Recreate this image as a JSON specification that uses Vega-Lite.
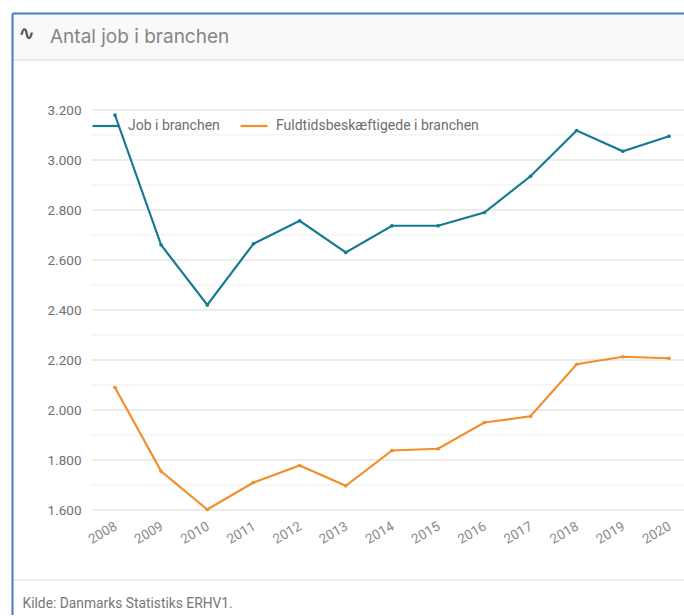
{
"$schema":"https://vega.github.io/schema/vega-lite/v6.json",
"padding":{"left":11,"top":13,"right":0,"bottom":0},
"background":"white",
"width":672,"height":602,
"config":{"view":{"stroke":null},"font":"Roboto"},
"title":{"text":"Antal job i branchen","anchor":"start","frame":"group","dx":38,"offset":-34,"font":"Inter","fontSize":19,"fontWeight":"normal","color":"#858585"},
"datasets":{
"series":[
{"year":2008,"series":"Job i branchen","value":3180},
{"year":2009,"series":"Job i branchen","value":2660},
{"year":2010,"series":"Job i branchen","value":2420},
{"year":2011,"series":"Job i branchen","value":2665},
{"year":2012,"series":"Job i branchen","value":2757},
{"year":2013,"series":"Job i branchen","value":2630},
{"year":2014,"series":"Job i branchen","value":2737},
{"year":2015,"series":"Job i branchen","value":2737},
{"year":2016,"series":"Job i branchen","value":2790},
{"year":2017,"series":"Job i branchen","value":2935},
{"year":2018,"series":"Job i branchen","value":3118},
{"year":2019,"series":"Job i branchen","value":3035},
{"year":2020,"series":"Job i branchen","value":3095},
{"year":2008,"series":"Fuldtidsbeskæftigede i branchen","value":2090},
{"year":2009,"series":"Fuldtidsbeskæftigede i branchen","value":1755},
{"year":2010,"series":"Fuldtidsbeskæftigede i branchen","value":1602},
{"year":2011,"series":"Fuldtidsbeskæftigede i branchen","value":1710},
{"year":2012,"series":"Fuldtidsbeskæftigede i branchen","value":1778},
{"year":2013,"series":"Fuldtidsbeskæftigede i branchen","value":1697},
{"year":2014,"series":"Fuldtidsbeskæftigede i branchen","value":1838},
{"year":2015,"series":"Fuldtidsbeskæftigede i branchen","value":1845},
{"year":2016,"series":"Fuldtidsbeskæftigede i branchen","value":1950},
{"year":2017,"series":"Fuldtidsbeskæftigede i branchen","value":1975},
{"year":2018,"series":"Fuldtidsbeskæftigede i branchen","value":2183},
{"year":2019,"series":"Fuldtidsbeskæftigede i branchen","value":2213},
{"year":2020,"series":"Fuldtidsbeskæftigede i branchen","value":2207}
],
"major":[{"g":1600},{"g":1800},{"g":2000},{"g":2200},{"g":2400},{"g":2600},{"g":2800},{"g":3000},{"g":3200}],
"minor":[{"g":1700},{"g":1900},{"g":2100},{"g":2300},{"g":2500},{"g":2700},{"g":2900},{"g":3100}],
"frame":[{"k":0}]
},
"data":{"name":"frame"},
"layer":[
{"mark":{"type":"rect","fill":"#f9f9f9"},
"encoding":{"y":{"datum":3588,"axis":null},"y2":{"datum":3402}}},
{"mark":{"type":"rule","stroke":"#ececec","strokeWidth":2},
"encoding":{"y":{"datum":3400,"axis":{"orient":"left","zindex":1,"title":null,"labels":false,"ticks":false,"grid":false,"domainColor":"#4a78c8","domainWidth":2}},
"x":{"datum":2005.77,"axis":{"zindex":1,"orient":"top","title":"∿","titleFont":"DejaVu Sans","titleFontWeight":"bold","titleFontSize":20,"titleColor":"#555555","titleX":14,"titleY":30,"labels":false,"ticks":false,"grid":false,"domainColor":"#4a78c8","domainWidth":2}},
"x2":{"datum":2020.325}}},
{"mark":{"type":"rule","stroke":"#ececec","strokeWidth":2},
"encoding":{"y":{"datum":1320,"axis":null},"x":{"datum":2005.77,"axis":null},"x2":{"datum":2020.325}}},
{"data":{"name":"minor"},"mark":{"type":"rule","stroke":"#f4f4f4","strokeWidth":1.3},
"encoding":{"y":{"field":"g","type":"quantitative","axis":null},"x":{"datum":2007.5,"axis":null},"x2":{"datum":2020.325}}},
{"data":{"name":"major"},"mark":{"type":"rule","stroke":"#e6e6e6","strokeWidth":1.3},
"encoding":{"y":{"field":"g","type":"quantitative","axis":null},"x":{"datum":2007.5,"axis":null},"x2":{"datum":2020.325}}},
{"data":{"name":"series"},
"mark":{"type":"line","strokeWidth":2.2,"point":{"size":14,"filled":true}},
"encoding":{
"x":{"field":"year","type":"quantitative","scale":{"domain":[2005.77,2020.325],"nice":false,"zero":false},
"axis":{"orient":"bottom","title":"Kilde: Danmarks Statistiks ERHV1.","titleFont":"Roboto","titleFontSize":13.8,"titleFontWeight":"normal","titleColor":"#777777","titleAnchor":"start","titleAlign":"left","titleBaseline":"alphabetic","titleX":10,"titleY":98,"offset":-106,"values":[2008,2009,2010,2011,2012,2013,2014,2015,2016,2017,2018,2019,2020],"format":"d","labelAngle":-30,"labelAlign":"right","labelBaseline":"top","labelFont":"Roboto","labelFontSize":13.5,"labelColor":"#8a8a8a","labelPadding":10,"labelOffset":-3,"domain":false,"ticks":false,"grid":false}},
"y":{"field":"value","type":"quantitative","scale":{"domain":[1180,3588],"nice":false,"zero":false},
"axis":{"orient":"left","title":null,"offset":-80,"values":[1600,1800,2000,2200,2400,2600,2800,3000,3200],
"labelExpr":"replace(format(datum.value,'d'),/(\\d)(\\d{3})$/,'$1.$2')",
"labelFont":"Roboto","labelFontSize":13.5,"labelColor":"#707070","labelPadding":11,"domain":false,"ticks":false,"grid":false}},
"color":{"field":"series","type":"nominal",
"scale":{"domain":["Job i branchen","Fuldtidsbeskæftigede i branchen"],"range":["#167a92","#f28e2b"]},
"legend":{"title":null,"orient":"none","legendX":79,"legendY":98,"direction":"horizontal","columns":2,"symbolType":"stroke","symbolSize":729,"symbolStrokeWidth":2.2,"labelFont":"Roboto","labelFontSize":14,"labelColor":"#6e6e6e","labelLimit":400,"columnPadding":16,"labelOffset":7}}}}
],
"resolve":{"axis":{"x":"independent","y":"independent"}}
}
